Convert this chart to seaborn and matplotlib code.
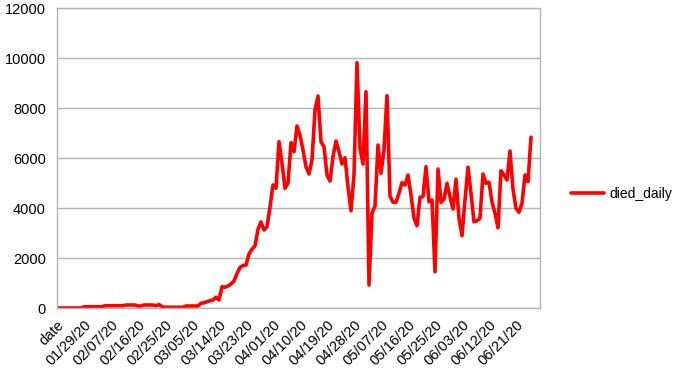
import numpy as np
import pandas as pd
import matplotlib
matplotlib.use("Agg")
import matplotlib.pyplot as plt
import seaborn as sns
from datetime import date, timedelta

# ---- data ----
start = date(2020, 1, 21)
n_categories = 162
categories = ["date"] + [(start + timedelta(days=k)).strftime("%m/%d/%y") for k in range(n_categories - 1)]

died_daily = [
    0, 0, 0, 0, 0, 0, 0, 0, 0, 50,
    50, 50, 50, 50, 50, 50, 90, 90, 90, 90,
    90, 90, 90, 120, 120, 120, 120, 80, 80, 120,
    120, 120, 120, 90, 140, 50, 30, 30, 30, 30,
    30, 30, 30, 80, 80, 80, 80, 80, 190, 210,
    250, 290, 320, 430, 320, 850, 830, 880, 960, 1080,
    1380, 1620, 1700, 1720, 2160, 2350, 2480, 3150, 3440, 3120,
    3250, 4050, 4920, 4790, 6650, 5790, 4790, 4990, 6610, 6250,
    7280, 6920, 6320, 5650, 5360, 5920, 7920, 8480, 6650, 6450,
    5320, 5080, 6050, 6680, 6250, 5760, 6010, 4850, 3890, 5320,
    9810, 6390, 5760, 8650, 920, 3790, 4080, 6520, 5390, 6320,
    8490, 4480, 4230, 4230, 4590, 5010, 4920, 5320, 4520, 3590,
    3290, 4430, 4450, 5650, 4250, 4320, 1450, 5560, 4230, 4350,
    4990, 4450, 3960, 5150, 3590, 2890, 4320, 5630, 4590, 3450,
    3490, 3590, 5360, 4990, 5030, 4250, 3790, 3210, 5490, 5320,
    5120, 6280, 4750, 3990, 3830, 4190, 5320, 5050, 6830,
]

y_ticks = [0, 2000, 4000, 6000, 8000, 10000, 12000]
label_step = 9
series_name = "died_daily"

df = pd.DataFrame({"idx": np.arange(len(died_daily)), series_name: died_daily})

# ---- style ----
sns.set_style("white")
plt.rcParams["font.family"] = ["Liberation Sans", "DejaVu Sans"]
plt.rcParams["text.color"] = "black"
plt.rcParams["xtick.labelcolor"] = "black"
plt.rcParams["ytick.labelcolor"] = "black"
grey = "#b3b3b3"

fig = plt.figure(figsize=(6.87, 3.87), dpi=100)
ax = fig.add_axes([57 / 687, 1 - 308 / 387, (540 - 57) / 687, (308 - 8) / 387])

sns.lineplot(data=df, x="idx", y=series_name, ax=ax, color="#ff0000",
             linewidth=2.6, label=series_name, legend=False)

ax.set_xlim(0, n_categories - 1)
ax.set_ylim(y_ticks[0], y_ticks[-1])
ax.set_yticks(y_ticks)
ax.set_yticklabels([str(v) for v in y_ticks], fontsize=10.5, color="black")

major = list(range(0, n_categories - 1, label_step))
ax.set_xticks(major)
ax.set_xticklabels([categories[i] for i in major], rotation=45, ha="right",
                   va="top", rotation_mode="anchor", fontsize=10.5, color="black")
ax.set_xticks(np.arange(n_categories), minor=True)
ax.tick_params(axis="x", which="both", direction="out", length=5, color=grey, width=1, pad=2)
ax.tick_params(axis="y", which="major", direction="out", length=5, color=grey, width=1, pad=3)

ax.yaxis.grid(True, color=grey, linewidth=1)
ax.xaxis.grid(False)
ax.set_axisbelow(True)
for s in ax.spines.values():
    s.set_color(grey)
    s.set_linewidth(1)
ax.set_xlabel("")
ax.set_ylabel("")

handles, labels = ax.get_legend_handles_labels()
leg = fig.legend(handles, labels, loc="center left", bbox_to_anchor=(558 / 687, 1 - 194 / 387),
                 frameon=False, fontsize=10, handlelength=2.4, handletextpad=0.4)
for t in leg.get_texts():
    t.set_color("black")

fig.savefig("out.png", dpi=100)
